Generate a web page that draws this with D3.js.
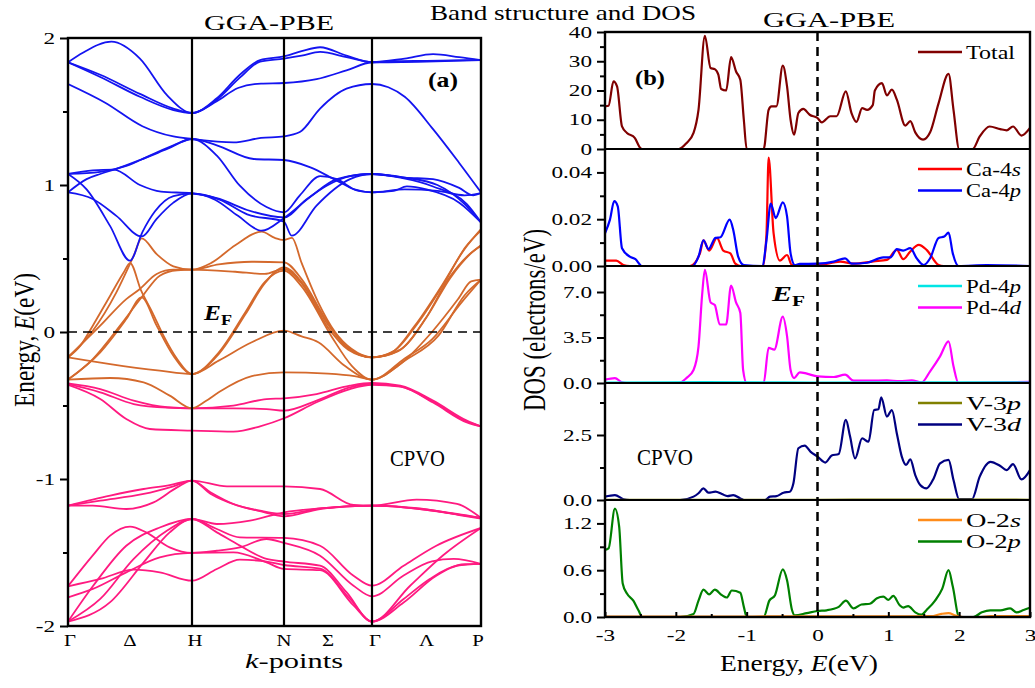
<!DOCTYPE html>
<html>
<head>
<meta charset="utf-8">
<script src="https://cdn.jsdelivr.net/npm/d3@7"></script>
<style>
  body { margin: 0; background: #fff; }
  text { font-family: 'Liberation Serif', 'Times New Roman', serif; fill: #000; }
</style>
</head>
<body>
<svg width="1035" height="688"></svg>
<script>
// ---- band structure data: [k, E] ; k: 0=Γ 1=H 2=N 3=Γ 4=P ----
var kLabels = ['Γ', 'Δ', 'H', 'N', 'Σ', 'Γ', 'Λ', 'P']
var kLabelPos = [0, 0.5, 1, 2, 2.5, 3, 3.5, 4]
var kLines = [1, 2, 3]
var energyTicks = [-2, -1, 0, 1, 2]

var blueBands = [
  [[0,1.835],[0.12,1.90],[0.35,1.975],[0.58,1.86],[0.8,1.61],[1,1.49],[1.27,1.59],[1.52,1.75],[1.74,1.85],[2,1.875],[2.2,1.91],[2.41,1.937],[2.71,1.88],[3,1.835],[3.3,1.86],[3.56,1.89],[3.8,1.87],[4,1.85]],
  [[0,1.835],[0.26,1.75],[0.58,1.62],[0.85,1.52],[1,1.49],[1.27,1.58],[1.52,1.73],[1.74,1.84],[2,1.86],[2.2,1.88],[2.41,1.905],[2.71,1.87],[3,1.835],[3.5,1.84],[4,1.85]],
  [[0,1.835],[0.26,1.735],[0.58,1.60],[0.85,1.51],[1,1.49],[1.27,1.57],[1.5,1.66],[1.75,1.69],[2,1.694],[2.37,1.72],[2.71,1.78],[3,1.835],[3.5,1.845],[4,1.85]],
  [[0,1.687],[0.3,1.56],[0.6,1.40],[0.85,1.33],[1,1.313],[1.45,1.29],[1.75,1.32],[2,1.331],[2.18,1.36],[2.41,1.52],[2.71,1.655],[3,1.687],[3.15,1.665],[3.3,1.6],[3.56,1.38],[3.8,1.15],[4,0.95]],
  [[0,1.075],[0.26,1.09],[0.47,1.13],[0.66,1.20],[0.85,1.27],[1,1.313],[1.27,1.27],[1.67,1.177],[2,1.17],[2.3,1.12],[2.6,1.03],[2.85,0.96],[3,0.95],[3.2,0.96],[3.32,0.99],[3.5,0.97],[3.8,0.88],[4,0.746]],
  [[0,0.95],[0.15,1.04],[0.26,1.075],[0.39,1.11],[0.58,1.17],[0.8,1.245],[1,1.313],[1.27,1.20],[1.52,0.995],[1.81,0.85],[2,0.814],[2.18,0.93],[2.41,1.06],[2.6,1.04],[2.8,0.97],[3,0.95],[3.3,0.97],[3.6,0.96],[3.85,0.93],[4,0.945]],
  [[0,1.075],[0.2,1.10],[0.37,1.105],[0.58,1.0],[0.75,0.955],[1,0.943],[1.3,0.905],[1.6,0.83],[2,0.78],[2.25,0.9],[2.5,1.0],[2.75,1.06],[3,1.075],[3.26,1.05],[3.56,0.99],[3.87,0.87],[4,0.746]],
  [[0,1.075],[0.15,0.97],[0.34,0.72],[0.5,0.485],[0.6,0.68],[0.7,0.82],[0.85,0.925],[1,0.943],[1.3,0.9],[1.6,0.8],[2,0.75],[2.087,0.655],[2.37,0.86],[2.75,1.04],[3,1.075],[3.3,1.05],[3.56,1.04],[3.8,0.98],[3.93,0.93],[4,0.945]],
  [[0,0.95],[0.2,0.905],[0.39,0.79],[0.595,0.65],[0.715,0.77],[0.85,0.88],[1,0.943],[1.25,0.9],[1.5,0.79],[1.757,0.689],[2,0.775],[2.3,0.92],[2.6,1.04],[3,1.075],[3.3,1.05],[3.6,1.0],[3.85,0.87],[4,0.746]]
]

var orangeBands = [
  [[0,-0.172],[0.1,-0.093],[0.2,0.043],[0.34,0.247],[0.45,0.406],[0.5,0.469],[0.59,0.281],[0.68,0.134],[0.77,-0.025],[0.88,-0.184],[1,-0.286],[1.29,-0.14],[1.58,0.134],[1.79,0.34],[2,0.417],[2.2,0.31],[2.54,-0.03],[2.77,-0.23],[3,-0.324],[3.24,-0.23],[3.55,0],[3.79,0.224],[3.91,0.345],[4,0.356]],
  [[0,-0.172],[0.2,0.009],[0.39,0.27],[0.53,0.519],[0.594,0.637],[0.715,0.53],[0.85,0.447],[1,0.424],[1.21,0.47],[1.47,0.59],[1.757,0.683],[1.9,0.64],[2,0.626],[2.09,0.64],[2.2,0.47],[2.39,0.2],[2.58,0],[2.77,-0.116],[3,-0.172],[3.18,-0.14],[3.39,0.04],[3.64,0.315],[3.85,0.565],[4,0.70]],
  [[0,-0.172],[0.26,0.043],[0.47,0.224],[0.58,0.293],[0.715,0.395],[0.85,0.424],[1,0.424],[1.29,0.46],[1.65,0.478],[2,0.474],[2.2,0.36],[2.47,0.09],[2.69,-0.09],[3,-0.172],[3.24,-0.13],[3.49,0.09],[3.7,0.36],[3.88,0.52],[4,0.587]],
  [[0,-0.324],[0.2,-0.184],[0.42,0.043],[0.594,0.236],[0.74,0.383],[0.88,0.42],[1,0.424],[1.47,0.41],[1.79,0.395],[2,0.43],[2.2,0.33],[2.5,0.03],[2.73,-0.12],[3,-0.172],[3.2,-0.13],[3.42,0.06],[3.66,0.33],[3.86,0.58],[4,0.69]],
  [[0,-0.324],[0.26,-0.138],[0.47,0.088],[0.594,0.236],[0.715,0.043],[0.85,-0.161],[1,-0.286],[1.29,-0.195],[1.65,-0.07],[2,0.009],[2.2,-0.03],[2.39,-0.07],[2.69,-0.23],[3,-0.324],[3.3,-0.195],[3.61,-0.025],[3.85,0.25],[4,0.356]],
  [[0,-0.172],[0.34,-0.218],[0.74,-0.263],[1,-0.286],[1.29,-0.15],[1.58,0.12],[1.79,0.33],[2,0.44],[2.2,0.34],[2.5,0.05],[2.73,-0.11],[3,-0.172],[3.26,-0.12],[3.5,0.1],[3.72,0.37],[3.9,0.53],[4,0.59]],
  [[0,-0.324],[0.34,-0.313],[0.61,-0.342],[0.82,-0.433],[1,-0.519],[1.15,-0.47],[1.29,-0.41],[1.65,-0.3],[2,-0.274],[2.5,-0.283],[2.8,-0.3],[3,-0.324],[3.3,-0.18],[3.55,-0.05],[3.82,0.2],[4,0.356]]
]

var pinkBands = [
  [[0,-0.35],[0.26,-0.388],[0.53,-0.467],[0.8,-0.512],[1,-0.519],[1.45,-0.501],[1.81,-0.456],[2,-0.451],[2.37,-0.422],[2.75,-0.365],[3,-0.347],[3.26,-0.365],[3.56,-0.467],[3.87,-0.603],[4,-0.642]],
  [[0,-0.355],[0.26,-0.41],[0.53,-0.49],[0.8,-0.515],[1,-0.519],[1.45,-0.519],[1.81,-0.524],[2,-0.535],[2.37,-0.467],[2.75,-0.376],[3,-0.352],[3.26,-0.37],[3.56,-0.475],[3.87,-0.61],[4,-0.642]],
  [[0,-0.36],[0.26,-0.456],[0.47,-0.592],[0.66,-0.66],[1,-0.671],[1.45,-0.678],[1.74,-0.642],[2,-0.587],[2.37,-0.478],[2.75,-0.388],[3,-0.36],[3.26,-0.372],[3.56,-0.48],[3.87,-0.615],[4,-0.642]],
  [[0,-1.181],[0.34,-1.113],[0.61,-1.068],[0.82,-1.041],[1,-1.011],[1.38,-1.05],[2,-1.05],[2.41,-1.068],[2.79,-1.177],[3,-1.181],[3.41,-1.14],[3.78,-1.17],[4,-1.265]],
  [[0,-1.181],[0.26,-1.147],[0.61,-1.102],[0.85,-1.05],[1,-1.011],[1.2,-1.09],[1.45,-1.17],[1.74,-1.215],[2,-1.238],[2.41,-1.2],[3,-1.181],[3.44,-1.204],[3.78,-1.238],[4,-1.265]],
  [[0,-1.181],[0.2,-1.181],[0.47,-1.204],[0.69,-1.159],[0.88,-1.057],[1,-1.011],[1.2,-1.1],[1.49,-1.18],[1.78,-1.225],[2,-1.254],[2.41,-1.204],[3,-1.181],[3.5,-1.21],[3.8,-1.245],[4,-1.27]],
  [[0,-1.97],[0.2,-1.73],[0.47,-1.454],[0.74,-1.33],[1,-1.272],[1.27,-1.306],[1.63,-1.283],[2,-1.227],[2.41,-1.2],[3,-1.181],[3.44,-1.2],[3.78,-1.24],[4,-1.265]],
  [[0,-1.97],[0.26,-1.816],[0.53,-1.544],[0.8,-1.351],[1,-1.272],[1.27,-1.34],[1.52,-1.397],[2,-1.401],[2.41,-1.454],[2.79,-1.658],[3,-1.726],[3.29,-1.59],[3.59,-1.454],[4,-1.333]],
  [[0,-1.97],[0.34,-1.838],[0.61,-1.567],[0.82,-1.363],[1,-1.272],[1.27,-1.363],[1.52,-1.453],[1.81,-1.544],[2,-1.562],[2.41,-1.59],[2.71,-1.77],[3,-1.97],[3.29,-1.816],[3.53,-1.68],[3.78,-1.59],[4,-1.578]],
  [[0,-1.73],[0.2,-1.52],[0.34,-1.385],[0.5,-1.324],[0.63,-1.363],[0.82,-1.465],[1,-1.503],[1.27,-1.488],[1.52,-1.465],[1.81,-1.408],[2,-1.435],[2.41,-1.522],[2.79,-1.726],[3,-1.798],[3.29,-1.657],[3.55,-1.56],[3.75,-1.544],[4,-1.578]],
  [[0,-1.805],[0.2,-1.748],[0.47,-1.635],[0.74,-1.533],[1,-1.503],[1.45,-1.499],[1.81,-1.567],[2,-1.612],[2.41,-1.62],[2.79,-1.86],[3,-1.97],[3.29,-1.84],[3.59,-1.658],[3.85,-1.58],[4,-1.578]],
  [[0,-1.73],[0.26,-1.68],[0.53,-1.617],[0.74,-1.635],[1,-1.692],[1.27,-1.612],[1.52,-1.549],[1.81,-1.562],[2,-1.585],[2.41,-1.61],[2.75,-1.816],[3,-1.97],[3.35,-1.726],[3.65,-1.52],[4,-1.333]]
]

// ---- DOS data: [E, DOS] ----
var totalDos = [[-3,14.6],[-2.95,14.8],[-2.88,23.1],[-2.83,21.4],[-2.76,7.7],[-2.69,5.5],[-2.58,3.8],[-2.5,0.3],[-2.48,0],[-1.96,0],[-1.85,2],[-1.75,5.5],[-1.68,13.4],[-1.59,38.7],[-1.51,27.7],[-1.45,27.3],[-1.4,25.4],[-1.36,20.5],[-1.29,20],[-1.22,31.4],[-1.15,26.5],[-1.09,23.7],[-1.04,10],[-1.0,0],[-0.76,0],[-0.69,13.4],[-0.65,14.6],[-0.58,14.6],[-0.49,28.5],[-0.43,21.4],[-0.38,10],[-0.33,4.9],[-0.27,12.3],[-0.2,13.7],[-0.11,11.7],[0,10.6],[0.06,9.1],[0.18,11.2],[0.27,11.2],[0.4,19.7],[0.48,12.3],[0.55,9.3],[0.63,14],[0.7,13.4],[0.78,15],[0.81,20],[0.91,22.5],[0.98,18.3],[1.05,20.3],[1.12,16.9],[1.24,8],[1.31,9.5],[1.38,5.7],[1.49,3.2],[1.59,5.7],[1.71,15.7],[1.85,25.7],[1.92,13.4],[2.0,0],[2.19,0],[2.29,4.3],[2.43,7.7],[2.58,6.8],[2.67,6.4],[2.76,7.7],[2.88,4.6],[3,7.2]]
var ca4s = [[-3,0.0023],[-2.84,0.0023],[-2.74,0.0004],[-2.65,0],[-1.8,0],[-1.66,0.0054],[-1.61,0.011],[-1.53,0.0066],[-1.42,0.012],[-1.33,0.0066],[-1.23,0.0054],[-1.16,0.001],[-1.09,0],[-0.77,0],[-0.72,0.014],[-0.69,0.0463],[-0.62,0.014],[-0.53,0.0023],[-0.43,0.0047],[-0.36,0.0004],[-0.2,0.0004],[0,0.0004],[0.32,0.0019],[0.51,0.001],[0.79,0.002],[0.98,0.0026],[1.12,0.0069],[1.21,0.0029],[1.31,0.0062],[1.43,0.009],[1.54,0.0069],[1.71,0.0004],[1.78,0],[3,0]]
var ca4p = [[-3,0.014],[-2.93,0.0198],[-2.87,0.0277],[-2.82,0.0255],[-2.76,0.0076],[-2.65,0.004],[-2.57,0.0029],[-2.48,0],[-1.77,0],[-1.68,0.004],[-1.61,0.011],[-1.54,0.0072],[-1.44,0.012],[-1.37,0.0123],[-1.24,0.0198],[-1.19,0.0155],[-1.12,0.004],[-1.04,0.0004],[-0.78,0],[-0.72,0.011],[-0.66,0.0267],[-0.59,0.0205],[-0.49,0.0272],[-0.43,0.0212],[-0.38,0.0054],[-0.32,0.0004],[-0.25,0.0009],[0,0.001],[0.23,0.0019],[0.39,0.0033],[0.48,0.001],[0.7,0.0014],[0.93,0.0037],[1.03,0.0037],[1.12,0.0072],[1.21,0.0066],[1.31,0.0076],[1.4,0.0033],[1.5,0.0004],[1.59,0.0033],[1.71,0.012],[1.79,0.0126],[1.85,0.0143],[1.91,0.0054],[1.99,0],[2.39,0.0004],[3,0]]
var pd4p = [[-3,0.04],[-1.6,0.06],[0,0.04],[1.8,0.05],[3,0.04]]
var pd4d = [[-3,0.26],[-2.86,0.38],[-2.76,0.05],[-2.69,0],[-1.96,0],[-1.85,0.38],[-1.75,1.0],[-1.68,2.8],[-1.63,6.7],[-1.59,8.7],[-1.51,6.2],[-1.45,6.0],[-1.38,4.5],[-1.29,4.5],[-1.22,7.5],[-1.15,6.2],[-1.09,5.4],[-1.05,1.0],[-1.0,0],[-0.76,0],[-0.69,2.7],[-0.61,2.56],[-0.49,5.1],[-0.43,3.6],[-0.38,1.0],[-0.33,0.38],[-0.25,0.82],[-0.15,0.72],[0,0.51],[0.23,0.46],[0.39,0.64],[0.51,0.18],[0.74,0.18],[0.98,0.2],[1.16,0.15],[1.33,0.2],[1.47,0.05],[1.59,0.9],[1.73,2.05],[1.85,3.2],[1.92,1.28],[1.99,0],[2.2,0.02],[3,0.08]]
var v3p = [[-3,0.01],[0,0.01],[1,0.02],[3,0.01]]
var v3d = [[-3,0.13],[-2.86,0.19],[-2.74,0.03],[-2.65,0],[-1.94,0],[-1.75,0.13],[-1.68,0.26],[-1.61,0.45],[-1.54,0.28],[-1.44,0.32],[-1.35,0.23],[-1.27,0.15],[-1.19,0.19],[-1.09,0.06],[-1.04,0],[-0.74,0],[-0.67,0.13],[-0.58,0.15],[-0.48,0.28],[-0.39,0.32],[-0.34,0.64],[-0.27,1.99],[-0.18,2.09],[-0.1,1.86],[0,1.67],[0.11,1.44],[0.2,1.71],[0.3,1.77],[0.4,3.08],[0.46,2.44],[0.53,1.6],[0.63,2.37],[0.72,2.24],[0.8,3.46],[0.86,3.49],[0.9,3.95],[0.98,3.21],[1.05,3.46],[1.12,2.56],[1.19,1.67],[1.25,1.35],[1.31,1.56],[1.38,0.96],[1.45,0.58],[1.54,0.45],[1.64,0.83],[1.73,1.41],[1.85,1.54],[1.92,0.77],[2.0,0.03],[2.18,0.03],[2.29,0.9],[2.44,1.47],[2.58,1.31],[2.67,1.15],[2.76,1.38],[2.88,0.79],[3,1.15]]
var o2s = [[-3,0.005],[-1.5,0.005],[-0.5,0.008],[1.6,0.01],[1.75,0.04],[1.85,0.05],[1.95,0.02],[2.05,0],[2.3,0],[2.45,0.012],[3,0.012]]
var o2p = [[-3,0.86],[-2.95,0.88],[-2.86,1.39],[-2.8,1.16],[-2.75,0.43],[-2.69,0.3],[-2.6,0.21],[-2.53,0.09],[-2.47,0],[-1.94,0],[-1.75,0.04],[-1.68,0.21],[-1.61,0.35],[-1.53,0.29],[-1.45,0.35],[-1.35,0.28],[-1.28,0.25],[-1.21,0.34],[-1.09,0.31],[-1.04,0.13],[-1.0,0],[-0.76,0],[-0.68,0.21],[-0.6,0.28],[-0.49,0.61],[-0.43,0.47],[-0.36,0.09],[-0.32,0.02],[-0.15,0.05],[0,0.077],[0.13,0.086],[0.3,0.13],[0.4,0.21],[0.51,0.11],[0.62,0.16],[0.74,0.17],[0.84,0.24],[0.93,0.26],[1.0,0.22],[1.07,0.27],[1.16,0.15],[1.21,0.12],[1.28,0.14],[1.38,0.06],[1.47,0.03],[1.54,0.09],[1.66,0.21],[1.76,0.36],[1.85,0.6],[1.91,0.39],[2.0,0],[2.2,0],[2.32,0.06],[2.44,0.086],[2.58,0.086],[2.72,0.11],[2.81,0.06],[2.91,0.09],[3,0.12]]

var panelMax = [40, 0.05, 9, 4.5, 1.5]
var panelTicks = [[0, 10, 20, 30, 40], [0, 0.02, 0.04], [0, 3.5, 7], [0, 2.5], [0, 0.6, 1.2]]
var panelMinor = [[5, 15, 25, 35], [0.01, 0.03], [1.75, 5.25], [1.25, 3.75], [0.3, 0.9]]
var panelFormat = ['d', '.2f', '.1f', '.1f', '.1f']
var panelSeries = [[totalDos], [ca4s, ca4p], [pd4d, pd4p], [v3d, v3p], [o2p, o2s]]
var panelColors = [['#800000'], ['#ff0000', '#0000ff'], ['#ff00ff', '#00e5e5'], ['#000080', '#808000'], ['#008000', '#ff8c1a']]
var legendNames = [['Total'], ['Ca-4|s', 'Ca-4|p'], ['Pd-4|p', 'Pd-4|d'], ['V-3|p', 'V-3|d'], ['O-2|s', 'O-2|p']]
var legendColors = [['#800000'], ['#ff0000', '#0000ff'], ['#00e5e5', '#ff00ff'], ['#808000', '#000080'], ['#ff8c1a', '#008000']]
var energyTicksDos = [-3, -2, -1, 0, 1, 2, 3]

var svg = d3.select('svg')
var SX = 1.45 // horizontal stretch of the reference lettering

function stretchTicks (g, s) {
  g.selectAll('.tick text').each(function () {
    var t = d3.select(this)
    t.attr('x', (+t.attr('x') || 0) / s).attr('transform', 'scale(' + s + ',1)')
  })
}

function label (x, y, str, size, len, opts) {
  opts = opts || {}
  var t = svg.append('text')
    .attr('x', x).attr('y', y)
    .style('font-size', size + 'px')
    .style('font-weight', opts.bold ? 'bold' : 'normal')
  if (str) t.text(str)
  if (len) t.attr('textLength', len).attr('lengthAdjust', 'spacingAndGlyphs')
  if (opts.anchor) t.attr('text-anchor', opts.anchor)
  return t
}

// ================= left: band structure =================
var kx = d3.scaleLinear().domain([0, 1, 2, 3, 4]).range([68, 192, 284, 372, 481])
var ey = d3.scaleLinear().domain([-2, 2]).range([626, 38])

svg.append('clipPath').attr('id', 'bandclip')
  .append('rect').attr('x', 68).attr('y', 38).attr('width', 413).attr('height', 588)

var bandLine = d3.line()
  .x(function (d) { return kx(d[0]) })
  .y(function (d) { return ey(d[1]) })
  .curve(d3.curveMonotoneX)

var bands = svg.append('g').attr('clip-path', 'url(#bandclip)')
var groups = [[pinkBands, '#ff1a80'], [orangeBands, '#d4692c'], [blueBands, '#1414f0']]
groups.forEach(function (gr) {
  bands.selectAll(null)
    .data(gr[0])
    .enter()
    .append('path')
    .attr('d', bandLine)
    .attr('fill', 'none')
    .attr('stroke', gr[1])
    .attr('stroke-width', 1.8)
})

// Fermi level
svg.append('line')
  .attr('x1', kx(0)).attr('x2', kx(4)).attr('y1', ey(0)).attr('y2', ey(0))
  .attr('stroke', '#000').attr('stroke-width', 1.6).attr('stroke-dasharray', '9,6')

// high symmetry lines
svg.selectAll('.kline')
  .data(kLines)
  .enter()
  .append('line')
  .attr('x1', function (d) { return kx(d) }).attr('x2', function (d) { return kx(d) })
  .attr('y1', ey(2)).attr('y2', ey(-2))
  .attr('stroke', '#000').attr('stroke-width', 2.2)

svg.append('rect')
  .attr('x', kx(0)).attr('y', ey(2)).attr('width', kx(4) - kx(0)).attr('height', ey(-2) - ey(2))
  .attr('fill', 'none').attr('stroke', '#000').attr('stroke-width', 2.4)

var yAxisL = svg.append('g').attr('transform', 'translate(' + kx(0) + ',0)')
  .call(d3.axisLeft(ey).tickValues(energyTicks).tickSize(8).tickPadding(5)
    .tickFormat(function (d) { return String(d) }))
yAxisL.select('.domain').remove()
yAxisL.selectAll('line').attr('stroke-width', 2)
yAxisL.selectAll('text').style('font-size', '16px').style('font-family', "'Liberation Serif', serif")
stretchTicks(yAxisL, SX)
var yMinorL = svg.append('g').attr('transform', 'translate(' + kx(0) + ',0)')
  .call(d3.axisLeft(ey).tickValues([-1.5, -0.5, 0.5, 1.5]).tickSize(5).tickFormat(''))
yMinorL.select('.domain').remove()
yMinorL.selectAll('line').attr('stroke-width', 2)

svg.selectAll('.klabel')
  .data(kLabels)
  .enter()
  .append('text')
  .attr('transform', function (d, i) {
    var x = kx(kLabelPos[i]) + (i === 0 ? 2 : 0) + (i === 7 ? -3 : 0) + (i === 2 || i === 5 ? 3 : 0)
    return 'translate(' + x + ',646) scale(1.3,1)'
  })
  .attr('text-anchor', 'middle')
  .style('font-size', '16px')
  .text(function (d) { return d })

var kt = label(245, 668, '', 22, 98)
kt.append('tspan').style('font-style', 'italic').text('k')
kt.append('tspan').text('-points')

var et = svg.append('text')
  .attr('transform', 'translate(34,340) scale(1.3,1) rotate(-90)')
  .attr('text-anchor', 'middle')
  .attr('textLength', 134).attr('lengthAdjust', 'spacingAndGlyphs')
  .style('font-size', '23px')
et.append('tspan').text('Energy, ')
et.append('tspan').style('font-style', 'italic').text('E')
et.append('tspan').text('(eV)')

label(204, 30, 'GGA-PBE', 20, 130)
label(428, 87, '(a)', 22, 30, { bold: true })
label(390, 466, 'CPVO', 23, 55)

function ef (x, y, len) {
  var t = label(x, y, '', 21, len, { bold: true })
  t.append('tspan').style('font-style', 'italic').text('E')
  t.append('tspan').attr('dy', 5).style('font-size', '15px').text('F')
}
ef(204, 320, 28)

// ================= right: DOS =================
var ex = d3.scaleLinear().domain([-3, 3]).range([605, 1030])
var panelTop = [32, 149, 266, 383, 500]
var panelH = 117

panelMax.forEach(function (mx, i) {
  var y = d3.scaleLinear().domain([0, mx]).range([panelTop[i] + panelH, panelTop[i]])
  var line = d3.line()
    .x(function (d) { return ex(d[0]) })
    .y(function (d) { return y(d[1]) })
    .curve(d3.curveMonotoneX)

  svg.append('g')
    .selectAll('path')
    .data(panelSeries[i])
    .enter()
    .append('path')
    .attr('d', line)
    .attr('fill', 'none')
    .attr('stroke', function (d, j) { return panelColors[i][j] })
    .attr('stroke-width', 2.2)

  var ax = svg.append('g').attr('transform', 'translate(605,0)')
    .call(d3.axisLeft(y).tickValues(panelTicks[i]).tickSize(8).tickPadding(5)
      .tickFormat(d3.format(panelFormat[i])))
  ax.select('.domain').remove()
  ax.selectAll('line').attr('stroke-width', 2)
  ax.selectAll('text').style('font-size', '16px').style('font-family', "'Liberation Serif', serif")
  stretchTicks(ax, SX)
  var mn = svg.append('g').attr('transform', 'translate(605,0)')
    .call(d3.axisLeft(y).tickValues(panelMinor[i]).tickSize(5).tickFormat(''))
  mn.select('.domain').remove()
  mn.selectAll('line').attr('stroke-width', 2)

  // legend
  legendNames[i].forEach(function (nm, j) {
    var ly = panelTop[i] + 20 + j * 21.5
    svg.append('line')
      .attr('x1', 918).attr('x2', 962).attr('y1', ly).attr('y2', ly)
      .attr('stroke', legendColors[i][j]).attr('stroke-width', 2.5)
    var parts = nm.split('|')
    var t = label(966, ly + 6.5, '', 19.5, parts.length > 1 ? 55 : 49)
    t.append('tspan').text(parts[0])
    if (parts.length > 1) t.append('tspan').style('font-style', 'italic').text(parts[1])
  })
})

// panel separators and frame
svg.selectAll('.sep')
  .data(panelTop.slice(1))
  .enter()
  .append('line')
  .attr('x1', 605).attr('x2', 1030)
  .attr('y1', function (d) { return d }).attr('y2', function (d) { return d })
  .attr('stroke', '#000').attr('stroke-width', 2)
svg.append('rect')
  .attr('x', 605).attr('y', 32).attr('width', 425).attr('height', 585)
  .attr('fill', 'none').attr('stroke', '#000').attr('stroke-width', 2.4)

// Fermi level
svg.append('line')
  .attr('x1', ex(0)).attr('x2', ex(0)).attr('y1', 32).attr('y2', 617)
  .attr('stroke', '#000').attr('stroke-width', 2.5).attr('stroke-dasharray', '9,6')

var xAxisR = svg.append('g').attr('transform', 'translate(0,617)')
  .call(d3.axisBottom(ex).tickValues(energyTicksDos).tickSize(-5).tickPadding(13)
    .tickFormat(function (d) { return String(d) }))
xAxisR.select('.domain').remove()
xAxisR.selectAll('line').attr('stroke-width', 2)
xAxisR.selectAll('text').style('font-size', '16px').style('font-family', "'Liberation Serif', serif")
stretchTicks(xAxisR, SX)
var xMinorR = svg.append('g').attr('transform', 'translate(0,617)')
  .call(d3.axisBottom(ex).tickValues([-2.5, -1.5, -0.5, 0.5, 1.5, 2.5]).tickSize(-3).tickFormat(''))
xMinorR.select('.domain').remove()
xMinorR.selectAll('line').attr('stroke-width', 2)

var xt = label(720, 671, '', 23, 158)
xt.append('tspan').text('Energy, ')
xt.append('tspan').style('font-style', 'italic').text('E')
xt.append('tspan').text('(eV)')

svg.append('text')
  .attr('transform', 'translate(545,320) scale(1.4,1) rotate(-90)')
  .attr('text-anchor', 'middle')
  .attr('textLength', 182).attr('lengthAdjust', 'spacingAndGlyphs')
  .style('font-size', '22px')
  .text('DOS (electrons/eV)')

label(763, 27, 'GGA-PBE', 20, 132)
label(635, 85, '(b)', 22, 30, { bold: true })
label(637, 465, 'CPVO', 23, 56)
ef(772, 301, 33)

label(430, 20, 'Band structure and DOS', 22, 266)
</script>
</body>
</html>
